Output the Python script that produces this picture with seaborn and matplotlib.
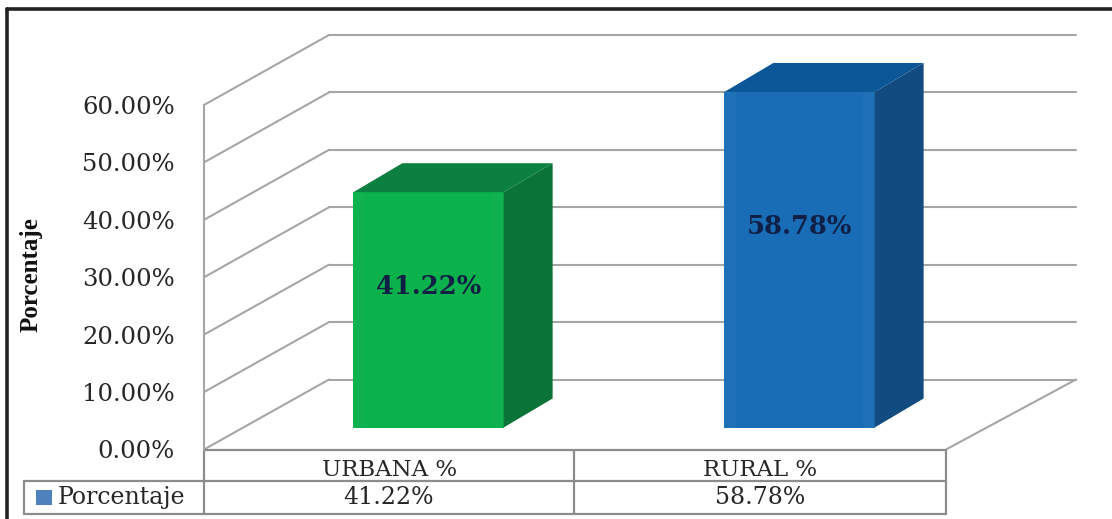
import matplotlib
matplotlib.use('Agg')
import matplotlib.pyplot as plt
import pandas as pd
import seaborn as sns
from matplotlib.patches import Polygon, Rectangle

categories = ['URBANA %', 'RURAL %']
values = [41.22, 58.78]
value_labels = ['41.22%', '58.78%']
yticks = [0, 10, 20, 30, 40, 50, 60]
ytick_labels = ['0.00%', '10.00%', '20.00%', '30.00%', '40.00%', '50.00%', '60.00%']
series_name = 'Porcentaje'
front_colors = ['#0BB14B', '#196DB6']
side_colors = ['#0A7438', '#124B80']
top_colors = ['#0B8040', '#0A5696']

W, H = 1112, 519
GRID = '#a6a6a6'
SERIF = 'DejaVu Serif'
TXT = '#262626'

sns.set_theme(style='white')
plt.rcParams['font.family'] = SERIF


def box(left, top, right, bottom):
    # pixel box (origin top left) to figure fractions
    return [left / W, 1 - bottom / H, (right - left) / W, (bottom - top) / H]


fig = plt.figure(figsize=(W / 100, H / 100), dpi=100, facecolor='white')

# plot plane is 204-946 wide, 0 at y=449.5 and 60 at y=105
L, R, T, B = 204, 946, 105, 449.5
WALL = (125, -70)   # depth of the back wall
BACK_R = 1076       # back wall runs a little further right
BAR = (39, -22)     # bars stand this far in from the front
DEPTH = (49, -29)   # depth of one bar

# back wall grid
ax_back = fig.add_axes(box(L + WALL[0], T + WALL[1], BACK_R, B + WALL[1]))
ax_back.set(xlim=(0, 1), ylim=(0, 60), xticks=[], yticks=yticks, yticklabels=[])
ax_back.grid(axis='y', color=GRID, lw=1.5)
for line in ax_back.get_ygridlines():
    line.set_clip_on(False)
ax_back.tick_params(length=0)
sns.despine(ax=ax_back, left=True, bottom=True)
ax_back.patch.set_alpha(0)

# bars
df = pd.DataFrame({'cat': categories, 'val': values})
ax_bar = fig.add_axes(box(L + BAR[0], T + BAR[1] + 2, R + BAR[0], B + BAR[1]))
sns.barplot(data=df, x='cat', y='val', hue='cat', palette=front_colors,
            width=0.405, saturation=1, legend=False, linewidth=0, ax=ax_bar)
ax_bar.set(ylim=(0, 60), xlabel=None, ylabel=None, xticks=[], yticks=[])
sns.despine(ax=ax_bar, left=True, bottom=True)
ax_bar.patch.set_alpha(0)

# everything else is in pixels on top
ov = fig.add_axes([0, 0, 1, 1])
ov.set(xlim=(0, W), ylim=(H, 0))
ov.axis('off')
ov.patch.set_alpha(0)


def to_px(ax, x, y):
    px, py = ax.transData.transform((x, y))
    return px, H - py


# depth faces from the bars seaborn drew
for i, bar in enumerate(ax_bar.patches):
    x0, y0 = to_px(ax_bar, bar.get_x(), bar.get_height())
    x1, y1 = to_px(ax_bar, bar.get_x() + bar.get_width(), 0)
    dx, dy = DEPTH
    ov.add_patch(Polygon([(x1, y0), (x1 + dx, y0 + dy), (x1 + dx, y1 + dy), (x1, y1)],
                         fc=side_colors[i], ec='none'))
    ov.add_patch(Polygon([(x0, y0), (x0 + dx, y0 + dy), (x1 + dx, y0 + dy), (x1, y0)],
                         fc=top_colors[i], ec='none'))
    # soft bevel along the front face
    ov.add_patch(Rectangle((x0, y0), 12, y1 - y0, fc='white', alpha=0.025, ec='none'))
    ov.add_patch(Rectangle((x1 - 12, y0), 12, y1 - y0, fc='white', alpha=0.025, ec='none'))
    ov.text((x0 + x1) / 2, y1 + (y0 - y1) * 0.6, value_labels[i], ha='center',
            va='center', fontsize=18.5, fontweight='bold', color='#0F1F45')

# depth lines on the left wall
for t in yticks:
    y = B + (T - B) * t / 60
    ov.plot([L, L + WALL[0]], [y, y + WALL[1]], color=GRID, lw=1.5)
ov.plot([R, BACK_R], [B, B + WALL[1]], color=GRID, lw=1.5)

# front plane with axis labels
ax = fig.add_axes(box(L, T, R, B))
ax.set(xlim=(0, 2), ylim=(0, 60), xticks=[0.5, 1.5], yticks=yticks)
ax.set_xticklabels(categories, fontsize=16.5, color=TXT)
ax.set_yticklabels(ytick_labels, fontsize=17.5, color=TXT)
ax.tick_params(axis='y', length=0, pad=21)
ax.tick_params(axis='x', length=0, pad=7)
ax.set_ylabel(series_name, family='Liberation Serif', fontweight='bold', fontsize=18,
              color='#111111')
ax.yaxis.set_label_coords((43 - L) / (R - L), (B - 275) / (B - T))
sns.despine(ax=ax, right=True, top=True, bottom=True)
ax.spines['left'].set_color(GRID)
ax.spines['left'].set_linewidth(1.5)
ax.patch.set_alpha(0)

# data table
TL, TM, TR = L, 574, R
Y0, Y1, Y2 = 450, 481, 514
LEFT = 24
for xs, ys in [([TL, TR], [Y0, Y0]), ([LEFT, TR], [Y1, Y1]), ([LEFT, TR], [Y2, Y2]),
               ([LEFT, LEFT], [Y1, Y2]), ([TL, TL], [Y0, Y2]), ([TM, TM], [Y0, Y2]),
               ([TR, TR], [Y0, Y2])]:
    ov.plot(xs, ys, color='#8c8c8c', lw=1.6)
ov.add_patch(Rectangle((36, 490), 16, 15, fc='#4F81BD', ec='none'))
ov.text(58, 497.5, series_name, va='center', fontsize=17, color=TXT)
ov.text((TL + TM) / 2, 498, value_labels[0], ha='center', va='center', fontsize=17, color=TXT)
ov.text((TM + TR) / 2, 498, value_labels[1], ha='center', va='center', fontsize=17, color=TXT)

# outer frame, left and top only show
ov.plot([7, 7], [519, 9], color='#222222', lw=2.6)
ov.plot([7, 1112], [9, 9], color='#222222', lw=2.6)
ov.set(xlim=(0, W), ylim=(H, 0))

fig.savefig('out.png', dpi=100)
